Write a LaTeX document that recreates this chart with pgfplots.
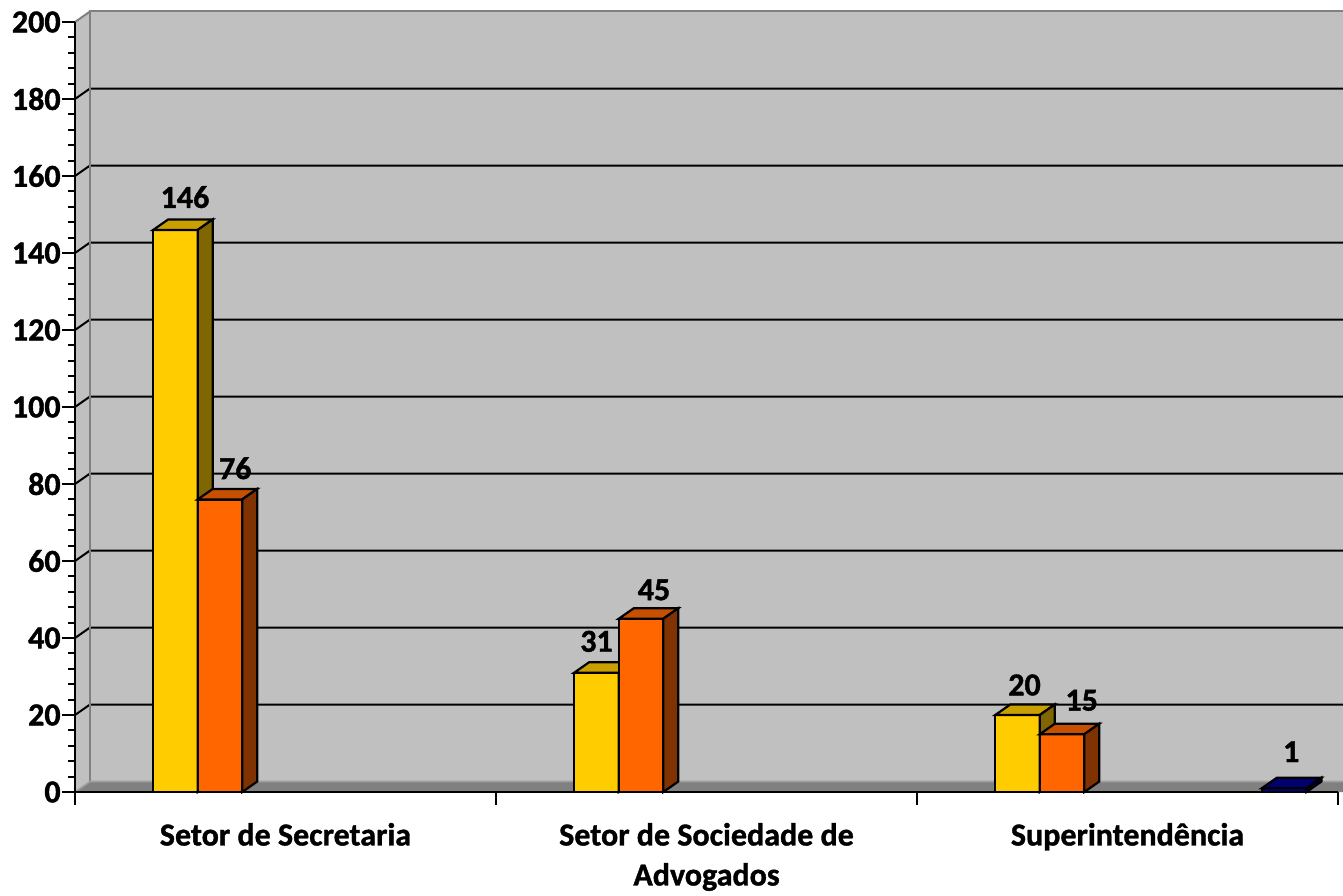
\documentclass[border=0pt]{standalone}
\usepackage{pgfplots}
\pgfplotsset{compat=1.18}
\usepackage{pgfplotstable}
\usepackage{fontspec}
\setmainfont{Carlito}[BoldFeatures={FakeBold=1.2}]

\definecolor{wall}{HTML}{C0C0C0}
\definecolor{walledge}{HTML}{808080}
\definecolor{floorc}{HTML}{808080}
\definecolor{flooredge}{HTML}{A0A0A0}
\definecolor{yfront}{HTML}{FFCC00}
\definecolor{ytop}{HTML}{C9A000}
\definecolor{yside}{HTML}{806600}
\definecolor{ofront}{HTML}{FF6600}
\definecolor{otop}{HTML}{C75000}
\definecolor{oside}{HTML}{803300}
\definecolor{bfront}{HTML}{000080}
\definecolor{btop}{HTML}{00006E}
\definecolor{bside}{HTML}{000048}

\newcommand\lbl{\fontsize{16}{20}\selectfont\bfseries}

% 3D top and side faces of a bar, drawn at the bar's top centre
\newcommand\declarebox[3]{%
  \pgfdeclareplotmark{#1}{%
    \pgfmathsetlengthmacro{\bh}{\barval*1.925pt}%
    \pgfsetlinewidth{1.1pt}%
    \pgfsetstrokecolor{black}%
    \pgfpathmoveto{\pgfqpoint{-11.125pt}{0pt}}%
    \pgfpathlineto{\pgfqpoint{11.125pt}{0pt}}%
    \pgfpathlineto{\pgfqpoint{18.625pt}{5.25pt}}%
    \pgfpathlineto{\pgfqpoint{-3.625pt}{5.25pt}}%
    \pgfpathclose
    \pgfsetfillcolor{#2}%
    \pgfusepath{fill,stroke}%
    \pgfpathmoveto{\pgfqpoint{11.125pt}{0pt}}%
    \pgfpathlineto{\pgfqpoint{18.625pt}{5.25pt}}%
    \pgfpathlineto{\pgfpoint{18.625pt}{5.25pt-\bh}}%
    \pgfpathlineto{\pgfpoint{11.125pt}{-\bh}}%
    \pgfpathclose
    \pgfsetfillcolor{#3}%
    \pgfusepath{fill,stroke}%
  }}
\declarebox{boxY}{ytop}{yside}
\declarebox{boxO}{otop}{oside}
\declarebox{boxB}{btop}{bside}

% x = category, y = value, lx/ly = label offsets (pt)
\pgfplotstableread{
x y lx ly
0 146 4.75 10.35
1 31 0 9.8
2 20 3.5 9.15
}\yellowdata
\pgfplotstableread{
x y lx ly
0 76 7.6 9.5
1 45 6.5 8.65
2 15 9.85 11.15
}\orangedata
\pgfplotstableread{
x y lx ly
2 1 3.5 12.5
}\bluedata

\pgfplotsset{
  box3d/.style={
    scatter, only marks, mark=#1,
    scatter/use mapped color={draw=black, fill=black},
    visualization depends on={y \as \barval},
    visualization depends on={\thisrow{lx} \as \lx},
    visualization depends on={\thisrow{ly} \as \ly},
    nodes near coords,
    every node near coord/.append style={font=\lbl, text=black, anchor=south,
      inner sep=0pt, xshift=\lx pt, yshift=\ly pt},
  },
  front/.style={ybar, bar width=0.1057, bar shift=0pt, fill=#1, draw=black,
    line width=1.1pt},
}

\begin{document}
\begin{tikzpicture}
\begin{axis}[
  at={(0,0)}, anchor=south west,
  scale only axis, width=631.5pt, height=385pt,
  xmin=-0.5, xmax=2.5, ymin=0, ymax=200,
  clip=false, clip marker paths=true,
  axis on top,
  axis lines*=left,
  axis line style={-, black, line width=1pt},
  ytick={0,20,...,200},
  minor y tick num=4,
  tick align=outside,
  major tick length=6.5pt, minor tick length=3.5pt,
  ytick style={black, line width=1pt},
  xtick={0,1,2},
  xticklabels={Setor de Secretaria,{Setor de Sociedade de\\Advogados},Superintendência},
  xtick style={draw=none},
  xticklabel style={align=center, font=\lbl, inner sep=0pt, yshift=-8.8pt},
  yticklabel style={font=\lbl, inner sep=0pt, xshift=-0.5pt},
  /pgf/number format/assume math mode=true,
]
% back wall
\fill[wall] ([xshift=7.5pt,yshift=5.25pt]axis cs:-0.5,0) rectangle ([xshift=7.5pt,yshift=5.25pt]axis cs:2.6,200);
% side wall
\fill[wall] (axis cs:-0.5,0) -- (axis cs:-0.5,200) -- ([xshift=7.5pt,yshift=5.25pt]axis cs:-0.5,200) -- ([xshift=7.5pt,yshift=5.25pt]axis cs:-0.5,0) -- cycle;
% gridlines
\pgfplotsinvokeforeach{20,40,...,180}{
  \draw[black, line width=1pt] (axis cs:-0.5,#1) -- ([xshift=7.5pt,yshift=5.25pt]axis cs:-0.5,#1) -- ([xshift=7.5pt,yshift=5.25pt]axis cs:2.6,#1);
}
% wall edges
\draw[walledge, line width=1pt] ([xshift=7.5pt,yshift=5.25pt]axis cs:-0.5,0) -- ([xshift=7.5pt,yshift=5.25pt]axis cs:-0.5,200) -- ([xshift=7.5pt,yshift=5.25pt]axis cs:2.6,200);
\draw[walledge, line width=1pt] (axis cs:-0.5,200) -- ([xshift=7.5pt,yshift=5.25pt]axis cs:-0.5,200);
% floor
\fill[floorc] (axis cs:-0.5,0) -- (axis cs:2.6,0) -- ([xshift=7.5pt,yshift=5.25pt]axis cs:2.6,0) -- ([xshift=7.5pt,yshift=5.25pt]axis cs:-0.5,0) -- cycle;
\draw[flooredge, line width=0.8pt] (axis cs:-0.5,0) -- ([xshift=7.5pt,yshift=5.25pt]axis cs:-0.5,0) -- ([xshift=7.5pt,yshift=5.25pt]axis cs:2.6,0);
% category boundary ticks
\pgfplotsinvokeforeach{-0.5,0.5,1.5,2.5}{
  \draw[black, line width=1pt] (axis cs:#1,0) -- ([yshift=-6.5pt]axis cs:#1,0);
}

\addplot[front=yfront] table[x expr=\thisrow{x}-0.2613, y=y] {\yellowdata};
\addplot[box3d=boxY] table[x expr=\thisrow{x}-0.2613, y=y] {\yellowdata};
\addplot[front=ofront] table[x expr=\thisrow{x}-0.1556, y=y] {\orangedata};
\addplot[box3d=boxO] table[x expr=\thisrow{x}-0.1556, y=y] {\orangedata};
\addplot[front=bfront] table[x expr=\thisrow{x}+0.3722, y=y] {\bluedata};
\addplot[box3d=boxB] table[x expr=\thisrow{x}+0.3722, y=y] {\bluedata};
\end{axis}
\pgfresetboundingbox
\path[use as bounding box] (-37.5pt,-51.5pt) rectangle (634pt,396pt);
\end{tikzpicture}
\end{document}
